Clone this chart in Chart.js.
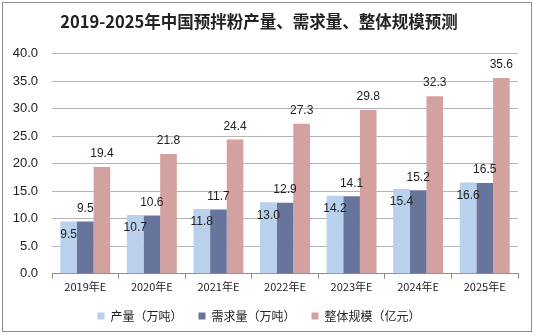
<!DOCTYPE html>
<html>
<head>
<meta charset="utf-8">
<script src="https://cdn.jsdelivr.net/npm/chart.js@4.4.1/dist/chart.umd.min.js"></script>
<style>
  html, body { margin: 0; padding: 0; background: #fff; }
  #wrap { width: 534px; height: 336px; position: relative; }
</style>
</head>
<body>
<div id="wrap"><canvas id="chart" width="534" height="336"></canvas></div>
<script>
/* ---------- data ---------- */
const years = ["2019年E", "2020年E", "2021年E", "2022年E", "2023年E", "2024年E", "2025年E"];
const output = [9.5, 10.7, 11.8, 13.0, 14.2, 15.4, 16.6];     // 产量（万吨）
const demand = [9.5, 10.6, 11.7, 12.9, 14.1, 15.2, 16.5];     // 需求量（万吨）
const scale  = [19.4, 21.8, 24.4, 27.3, 29.8, 32.3, 35.6];    // 整体规模（亿元）

const CJK = "'Noto Sans CJK SC', 'Liberation Sans', sans-serif";

/* border around the whole picture */
const frame = {
    id: "frame",
    afterDraw(chart) {
        const ctx = chart.ctx;
        ctx.save();
        ctx.strokeStyle = "#8c8c8c";
        ctx.lineWidth = 1;
        ctx.strokeRect(2.5, 2.5, 529, 329);
        ctx.restore();
    }
};

/* value labels: first series inside the bar top, others above */
const valueLabels = {
    id: "valueLabels",
    afterDatasetsDraw(chart) {
        const ctx = chart.ctx;
        ctx.save();
        ctx.font = "12px 'Liberation Sans', Arial, sans-serif";
        ctx.fillStyle = "#222";
        ctx.textAlign = "center";
        ctx.textBaseline = "middle";
        chart.data.datasets.forEach((ds, i) => {
            chart.getDatasetMeta(i).data.forEach((bar, j) => {
                const y = i === 0 ? bar.y + 13 : bar.y - 13;
                ctx.fillText(ds.data[j].toFixed(1), bar.x, y);
            });
        });
        ctx.restore();
    }
};

new Chart(document.getElementById("chart"), {
    type: "bar",
    data: {
        labels: years,
        datasets: [
            { label: "产量（万吨）", data: output, backgroundColor: "#b9d1ec" },
            { label: "需求量（万吨）", data: demand, backgroundColor: "#67749b" },
            { label: "整体规模（亿元）", data: scale, backgroundColor: "#d4a1a1" }
        ]
    },
    options: {
        responsive: false,
        animation: false,
        layout: { padding: { left: 0, right: 16, top: 0, bottom: 4 } },
        datasets: { bar: { categoryPercentage: 0.75, barPercentage: 1.0 } },
        plugins: {
            title: {
                display: true,
                text: "2019-2025年中国预拌粉产量、需求量、整体规模预测",
                color: "#222",
                font: { family: CJK, size: 16.5, weight: "bold" },
                padding: { top: 12, bottom: 22 }
            },
            legend: {
                position: "bottom",
                labels: {
                    color: "#222",
                    font: { family: CJK, size: 12 },
                    boxWidth: 7,
                    boxHeight: 7,
                    padding: 16
                }
            },
            tooltip: { enabled: false }
        },
        scales: {
            x: {
                grid: { drawOnChartArea: false, drawTicks: true, tickLength: 5, color: "#8c8c8c" },
                border: { color: "#8c8c8c" },
                ticks: { color: "#222", font: { family: CJK, size: 11 }, padding: 1, maxRotation: 0 }
            },
            y: {
                min: 0,
                max: 40,
                afterFit(s) { s.width = 52; },
                grid: { color: "#b4b4b4", drawTicks: false },
                border: { display: false },
                ticks: {
                    stepSize: 5,
                    padding: 14,
                    color: "#222",
                    font: { family: "'Liberation Sans', Arial, sans-serif", size: 13 },
                    callback: v => v.toFixed(1)
                }
            }
        }
    },
    plugins: [frame, valueLabels]
});
</script>
</body>
</html>
